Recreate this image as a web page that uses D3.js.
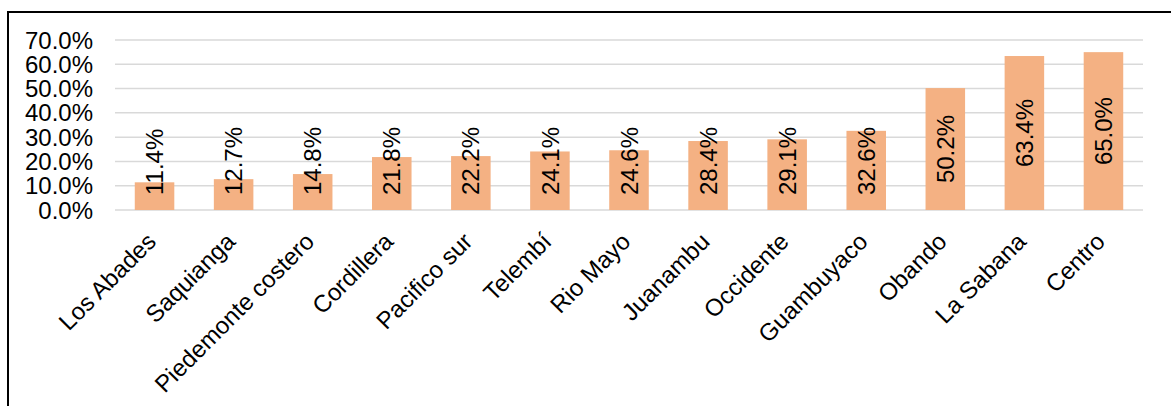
<!DOCTYPE html>
<html>
<head>
<meta charset="utf-8">
<script src="https://cdn.jsdelivr.net/npm/d3@7"></script>
<style>
  body { margin: 0; background: #fff; }
  text { font-family: "Liberation Sans", Arial, sans-serif; fill: #000; }
</style>
</head>
<body>
<div id="chart"></div>
<script>
// data
var categories = ["Los Abades", "Saquianga", "Piedemonte costero", "Cordillera", "Pacifico sur",
  "Telembí", "Rio Mayo", "Juanambu", "Occidente", "Guambuyaco", "Obando", "La Sabana", "Centro"]
var values = [0.114, 0.127, 0.148, 0.218, 0.222, 0.241, 0.246, 0.284, 0.291, 0.326, 0.502, 0.634, 0.650]
var yTicks = [0, 0.1, 0.2, 0.3, 0.4, 0.5, 0.6, 0.7]

var width = 1171
var height = 406
var fontSize = 24

var svg = d3.select("#chart").append("svg").attr("width", width).attr("height", height)

// chart frame (only top and left show in the crop)
svg.append("path")
  .attr("d", "M8," + height + "V12H" + width)
  .attr("fill", "none").attr("stroke", "#000").attr("stroke-width", 2)

var xScale = d3.scaleBand().domain(categories).range([115, 1143]).paddingInner(0.5).paddingOuter(0.25)
var yScale = d3.scaleLinear().domain([0, 0.7]).range([210, 40])
var fmt = d3.format(".1%")

// gridlines
svg.selectAll(".grid").data(yTicks).enter().append("line")
  .attr("class", "grid")
  .attr("x1", 115).attr("x2", 1143)
  .attr("y1", function(d) { return yScale(d) }).attr("y2", function(d) { return yScale(d) })
  .attr("stroke", "#d9d9d9").attr("stroke-width", 1.5)

// y labels
svg.selectAll(".ylab").data(yTicks).enter().append("text")
  .attr("class", "ylab")
  .attr("x", 93).attr("y", function(d) { return yScale(d) })
  .attr("dy", "0.36em")
  .attr("text-anchor", "end")
  .attr("font-size", fontSize + "px")
  .text(function(d) { return fmt(d) })

var rows = categories.map(function(c, i) { return { cat: c, v: values[i] } })

// bars
svg.selectAll(".bar").data(rows).enter().append("rect")
  .attr("class", "bar")
  .attr("x", function(d) { return xScale(d.cat) })
  .attr("width", xScale.bandwidth())
  .attr("y", function(d) { return yScale(d.v) })
  .attr("height", function(d) { return yScale(0) - yScale(d.v) })
  .attr("fill", "#f4b183")

// value labels, rotated, centred in bar but kept above the base
var labs = svg.selectAll(".val").data(rows).enter().append("text")
  .attr("class", "val")
  .attr("text-anchor", "middle")
  .attr("dy", "0.36em")
  .attr("font-size", fontSize + "px")
  .text(function(d) { return fmt(d.v) })

labs.attr("transform", function(d) {
  var half = this.getComputedTextLength() / 2
  var mid = (yScale(d.v) + yScale(0)) / 2
  var cy = Math.min(mid, yScale(0) - 15 - half)
  var cx = xScale(d.cat) + xScale.bandwidth() / 2
  return "translate(" + cx + "," + cy + ") rotate(-90)"
})

// category labels at 45 degrees
svg.selectAll(".cat").data(categories).enter().append("text")
  .attr("class", "cat")
  .attr("text-anchor", "end")
  .attr("font-size", fontSize + "px")
  .attr("transform", function(d) {
    var cx = xScale(d) + xScale.bandwidth() / 2
    return "translate(" + (cx + 3) + "," + 243 + ") rotate(-45)"
  })
  .text(function(d) { return d })
</script>
</body>
</html>
